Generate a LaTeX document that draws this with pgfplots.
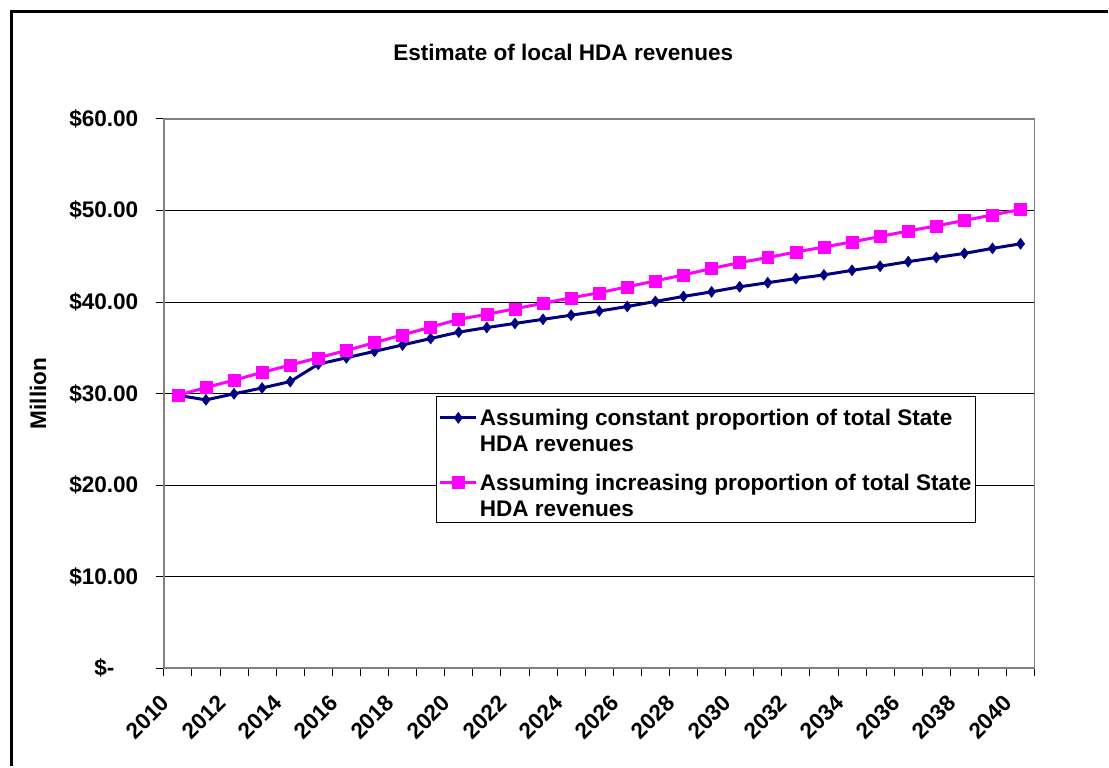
\documentclass[border=0pt]{standalone}
\usepackage{fontspec}
\setmainfont{Liberation Sans}
\usepackage{pgfplots}
\usepackage{pgfplotstable}
\pgfplotsset{compat=1.18}
\definecolor{navyb}{HTML}{000080}
\definecolor{magp}{HTML}{FF00FF}
\newcommand{\cf}{\fontsize{22.6}{26}\selectfont\bfseries}

\pgfplotstableread{
year val
2010 29.8
2011 29.3
2012 29.96
2013 30.6
2014 31.3
2015 33.2
2016 33.9
2017 34.6
2018 35.3
2019 36.0
2020 36.7
2021 37.2
2022 37.65
2023 38.1
2024 38.55
2025 39.0
2026 39.5
2027 40.05
2028 40.6
2029 41.1
2030 41.65
2031 42.1
2032 42.55
2033 42.95
2034 43.45
2035 43.9
2036 44.4
2037 44.85
2038 45.3
2039 45.85
2040 46.35
}\constant

\pgfplotstableread{
year val
2010 29.8
2011 30.65
2012 31.45
2013 32.3
2014 33.1
2015 33.9
2016 34.7
2017 35.55
2018 36.4
2019 37.25
2020 38.1
2021 38.65
2022 39.25
2023 39.85
2024 40.45
2025 41.0
2026 41.65
2027 42.3
2028 42.95
2029 43.65
2030 44.3
2031 44.85
2032 45.45
2033 46.0
2034 46.55
2035 47.15
2036 47.75
2037 48.3
2038 48.9
2039 49.5
2040 50.1
}\increasing

\begin{document}
\begin{tikzpicture}
\fill[white] (0pt,0pt) rectangle (1109pt,767pt);
\draw[line width=3pt] (11.5pt,0pt) -- (11.5pt,755.5pt) -- (1109pt,755.5pt);
\begin{axis}[
  at={(164pt,98pt)}, anchor=south west,
  scale only axis, width=872pt, height=550pt,
  xmin=2009.5, xmax=2040.5, ymin=0, ymax=60,
  axis line style={draw=black!50, line width=1.5pt},
  ytick={0,10,20,30,40,50,60},
  yticklabels={\$-\hspace*{24pt},\$10.00,\$20.00,\$30.00,\$40.00,\$50.00,\$60.00},
  xtick={2010,2012,2014,2016,2018,2020,2022,2024,2026,2028,2030,2032,2034,2036,2038,2040},
  xticklabels={2010,2012,2014,2016,2018,2020,2022,2024,2026,2028,2030,2032,2034,2036,2038,2040},
  minor xtick={2009.5,2010.5,...,2040.5},
  tick align=outside, xtick pos=bottom, ytick pos=left,
  major tick length=8pt, minor tick length=8pt,
  major x tick style={draw=none},
  minor x tick style={draw=black, line width=0.8pt},
  major y tick style={draw=black, line width=0.8pt},
  ymajorgrids, grid style={black, line width=0.8pt},
  ticklabel style={font=\cf},
  yticklabel style={xshift=-14pt},
  xticklabel style={xshift=-10pt, yshift=-21pt, rotate=45, anchor=east},
  title={Estimate of local HDA revenues},
  title style={font=\cf, at={(axis description cs:0.4587,1.0946)}, anchor=base},
  ylabel={Million},
  ylabel style={font=\cf, at={(axis description cs:-0.1445,0.5)}, anchor=center},
  legend style={at={(axis description cs:0.3131,0.4945)}, anchor=north west,
    draw=black, line width=0.8pt, font=\cf, inner xsep=2pt, inner ysep=2pt,
    nodes={inner sep=2pt}, cells={anchor=base west}, row sep=15pt},
  legend image code/.code={\draw[mark repeat=2,mark phase=2,yshift=34pt] plot coordinates {(0pt,0pt) (18pt,0pt) (36pt,0pt)};},
]
\addplot[navyb, line width=3pt, mark=diamond*, mark size=5.5pt, mark options={solid, line width=0.5pt}] table[x=year,y=val] {\constant};
\addlegendentry{\begin{tabular}[b]{@{}l@{}}\rule{0pt}{25pt}Assuming constant proportion of total State\\HDA revenues\end{tabular}}
\addplot[magp, line width=3pt, mark=square*, mark size=6pt, mark options={solid, line width=0.5pt}] table[x=year,y=val] {\increasing};
\addlegendentry{\begin{tabular}[b]{@{}l@{}}Assuming increasing proportion of total State\\HDA revenues\end{tabular}}
\end{axis}
\end{tikzpicture}
\end{document}
